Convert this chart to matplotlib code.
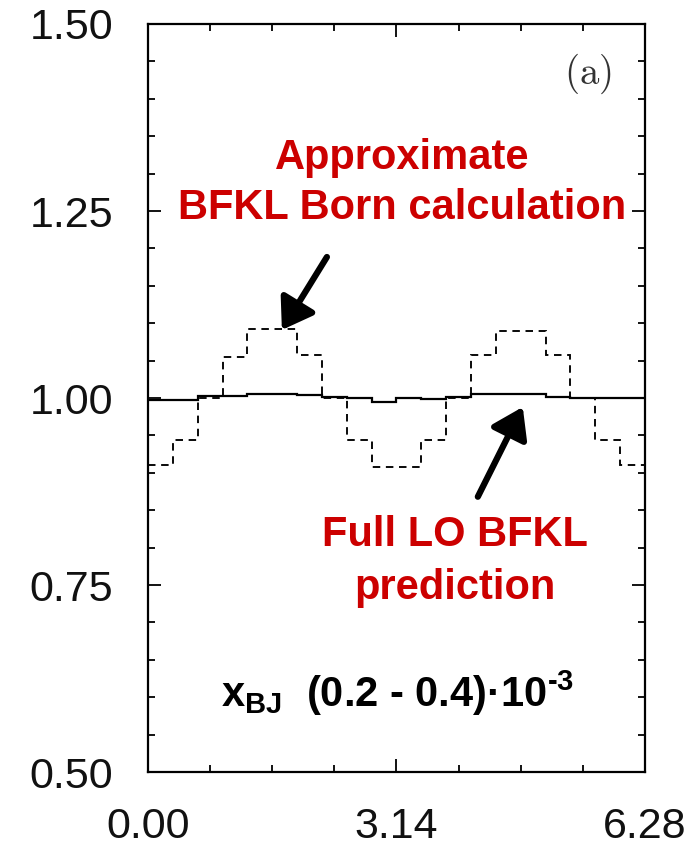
import numpy as np
import matplotlib
matplotlib.use('Agg')
import matplotlib.pyplot as plt
from matplotlib.ticker import MultipleLocator, FixedLocator

plt.rcParams['font.family'] = ['Liberation Sans', 'DejaVu Sans']
plt.rcParams['mathtext.fontset'] = 'custom'
plt.rcParams['mathtext.rm'] = 'Liberation Sans:bold'
plt.rcParams['mathtext.bf'] = 'Liberation Sans:bold'

# azimuthal angle bins, 0 .. 2pi
phi_edges = np.linspace(0, 2 * np.pi, 21)

# ratio, approximate BFKL Born calculation (dashed)
born_ratio = [0.910, 0.944, 1.000, 1.055, 1.092, 1.092, 1.057, 1.000, 0.944, 0.908,
              0.908, 0.944, 1.000, 1.057, 1.090, 1.090, 1.057, 1.000, 0.944, 0.910]

# ratio, full LO BFKL prediction (solid)
lo_ratio = [0.998, 0.998, 1.003, 1.003, 1.006, 1.006, 1.004, 1.002, 1.000, 0.995,
            1.000, 0.999, 1.002, 1.005, 1.005, 1.005, 1.002, 1.000, 1.000, 1.000]

y_ticks = [0.50, 0.75, 1.00, 1.25, 1.50]
x_ticks = [0, np.pi, 2 * np.pi]
x_labels = ['0.00', '3.14', '6.28']

red = '#cc0000'

fig = plt.figure(figsize=(7, 8.6), dpi=100)
ax = fig.add_axes([0.2114, 0.1023, 0.71, 0.8698])

ax.stairs(lo_ratio, phi_edges, baseline=None, color='black', lw=1.6)
ax.stairs(born_ratio, phi_edges, baseline=None, color='black', lw=1.35,
          linestyle=(0, (4, 3)))

ax.set_xlim(0, 2 * np.pi)
ax.set_ylim(0.5, 1.5)

for s in ax.spines.values():
    s.set_linewidth(1.6)

ax.yaxis.set_major_locator(FixedLocator(y_ticks))
ax.yaxis.set_minor_locator(MultipleLocator(0.05))
ax.set_yticklabels(['%.2f' % v for v in y_ticks])
ax.xaxis.set_major_locator(FixedLocator(x_ticks))
ax.xaxis.set_minor_locator(MultipleLocator(np.pi / 4))
ax.set_xticklabels(x_labels)

ax.tick_params(which='both', direction='in', top=True, right=True, width=1.3,
               labelsize=31, colors='black')
ax.tick_params(which='major', length=9.5)
ax.tick_params(which='minor', length=5)
ax.tick_params(axis='y', pad=25)
ax.tick_params(axis='x', pad=25)
for lab in ax.get_xticklabels() + ax.get_yticklabels():
    lab.set_color('#111111')

ax.text(5.56, 1.434, r'$\mathrm{(a)}$', math_fontfamily='cm', fontsize=28,
        ha='center', va='center', color='#333333')

ax.text(3.21, 1.321, 'Approximate', color=red, fontsize=30, fontweight='bold',
        ha='center', va='center')
ax.text(3.21, 1.254, 'BFKL Born calculation', color=red, fontsize=30,
        fontweight='bold', ha='center', va='center')
ax.text(3.88, 0.817, 'Full LO BFKL', color=red, fontsize=30, fontweight='bold',
        ha='center', va='center')
ax.text(3.88, 0.746, 'prediction', color=red, fontsize=30, fontweight='bold',
        ha='center', va='center')

ax.text(3.16, 0.587,
        'x$_{\\mathbf{BJ}}$  (0.2 - 0.4)\u00b710$^{\\text{-}\\mathbf{3}}$',
        fontsize=30, fontweight='bold', ha='center', va='baseline', color='black')

arrow = dict(arrowstyle='-|>,head_length=0.9,head_width=0.6', lw=4.5,
             color='black', shrinkA=0, shrinkB=0, mutation_scale=20)
ax.annotate('', xy=(1.693, 1.091), xytext=(2.262, 1.1885), arrowprops=arrow)
ax.annotate('', xy=(4.738, 0.988), xytext=(4.17, 0.868), arrowprops=arrow)

fig.savefig('out.png', dpi=100)
